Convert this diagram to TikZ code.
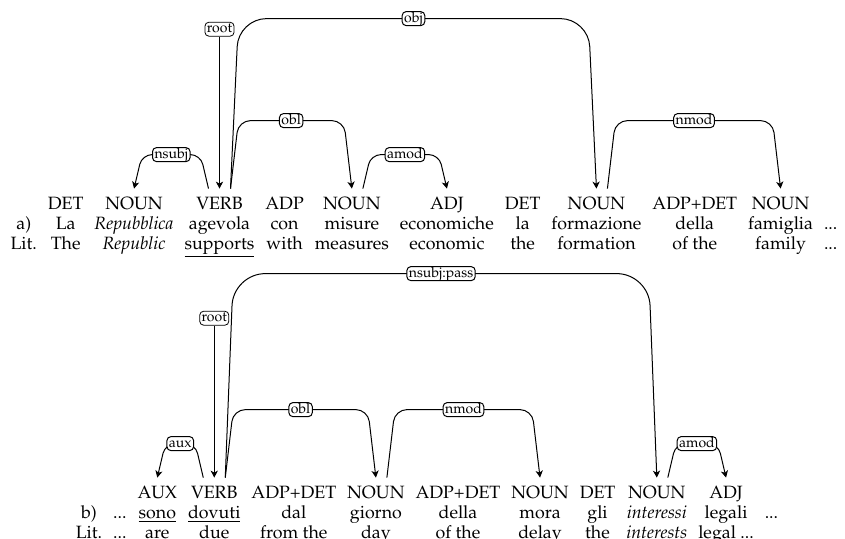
\documentclass[tikz,border=0pt]{standalone}
\usepackage[T1]{fontenc}
\usepackage{mathpazo}
\usetikzlibrary{
  arrows.meta,
  calc,
  matrix,
  positioning
}
\tikzset{
  sent/.style={matrix of nodes,column sep=5.5pt,row sep=1pt,
    nodes={anchor=base,inner sep=0pt,text height=7pt,text depth=2pt,
      font=\fontsize{8.9pt}{10pt}\selectfont}},
  deplab/.style={draw,fill=white,rounded corners=2pt,font=\scriptsize,
    inner xsep=1pt,inner ysep=0.6pt,text height=4.6pt,text depth=1.2pt},
  deparc/.style={-{Stealth[length=3.5pt,width=3.6pt,inset=1pt]},line width=0.5pt}
}
% #1 corner radius, #2 head, #3 dependent, #4 side (1 right, -1 left), #5 level, #6 relation
\newcommand{\depedge}[6][5pt]{%
  \draw[deparc,rounded corners=#1]
    ($(#2.north)+({(#4)*5.5pt},3pt)$)
    -- ($(#2.north)+({(#4)*9.5pt},{3pt+#5*17pt})$)
    -- node[deplab]{#6} ($(#3.north)+({-(#4)*4pt},{3pt+#5*17pt})$)
    -- ($(#3.north)+(0,3pt)$);}

\begin{document}
\begin{tikzpicture}[x=0.5pt,y=-0.5pt]
  \useasboundingbox (0,0) rectangle (845,538);
  % sentence a)
  \matrix (sa) [sent] at (424,224) {
         & DET & NOUN               & VERB                & ADP  & NOUN     & ADJ        & DET & NOUN       & ADP+DET & NOUN     &     \\
    a)   & La  & \textit{Repubblica} & agevola             & con  & misure   & economiche & la  & formazione & della   & famiglia & ... \\
    Lit. & The & \textit{Republic}   & \underline{supports} & with & measures & economic   & the & formation  & of the  & family   & ... \\
  };
  \node[deplab,above=79pt of sa-1-4] (roota) {root};
  \draw[deparc] (roota) -- ($(sa-1-4.north)+(0,3pt)$);
  \depedge{sa-1-4}{sa-1-3}{-1}{1}{nsubj}
  \depedge[6pt]{sa-1-4}{sa-1-6}{1}{2}{obl}
  \depedge[14pt]{sa-1-4}{sa-1-9}{1}{5}{obj}
  \depedge{sa-1-6}{sa-1-7}{1}{1}{amod}
  \depedge[6pt]{sa-1-9}{sa-1-11}{1}{2}{nmod}

  % sentence b)
  \matrix (sb) [sent] at (427,513) {
         &     & AUX              & VERB               & ADP+DET  & NOUN   & ADP+DET & NOUN  & DET & NOUN              & ADJ       &     \\
    b)   & ... & \underline{sono} & \underline{dovuti} & dal      & giorno & della   & mora  & gli & \textit{interessi} & legali    & ... \\
    Lit. & ... & are              & due                & from the & day    & of the  & delay & the & \textit{interests} & legal ... &     \\
  };
  \node[deplab,above=79pt of sb-1-4] (rootb) {root};
  \draw[deparc] (rootb) -- ($(sb-1-4.north)+(0,3pt)$);
  \depedge{sb-1-4}{sb-1-3}{-1}{1}{aux}
  \depedge[6pt]{sb-1-4}{sb-1-6}{1}{2}{obl}
  \depedge[16pt]{sb-1-4}{sb-1-10}{1}{6}{nsubj:pass}
  \depedge[6pt]{sb-1-6}{sb-1-8}{1}{2}{nmod}
  \depedge{sb-1-10}{sb-1-11}{1}{1}{amod}
\end{tikzpicture}
\end{document}
